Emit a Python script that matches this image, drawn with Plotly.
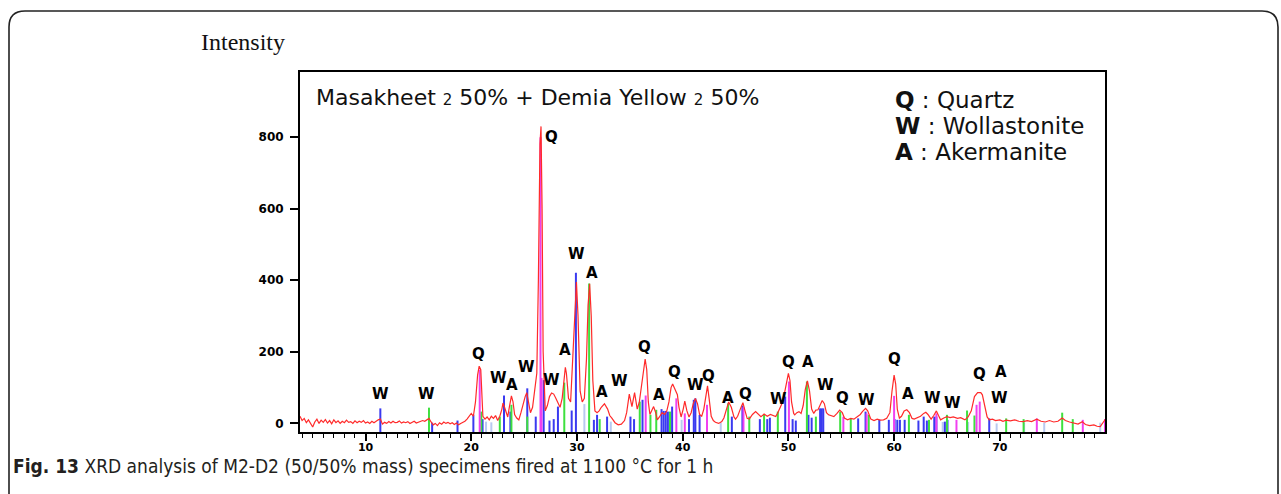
import plotly.graph_objects as go

# ---------------- data ----------------
two_theta = [3.8, 4.0, 4.2, 4.4, 4.6, 4.8, 5.0, 5.2, 5.4, 5.6, 5.8, 6.0, 6.2, 6.4, 6.6, 6.8, 7.0, 7.2, 7.4, 7.6,
             7.8, 8.0, 8.2, 8.4, 8.6, 8.8, 9.0, 9.2, 9.4, 9.6, 9.8, 10.0, 10.2, 10.4, 10.6, 10.8, 11.0, 11.2, 11.4, 11.6,
             11.8, 12.0, 12.2, 12.4, 12.6, 12.8, 13.0, 13.2, 13.4, 13.6, 13.8, 14.0, 14.2, 14.4, 14.6, 14.8, 15.0, 15.2, 15.4, 15.6,
             15.8, 16.0, 16.2, 16.4, 16.6, 16.8, 17.0, 17.2, 17.4, 17.6, 17.8, 18.0, 18.2, 18.4, 18.6, 18.8, 19.0, 19.2, 19.4, 19.6,
             19.8, 20.0, 20.2, 20.4, 20.6, 20.75, 20.9, 21.0, 21.1, 21.3, 21.5, 21.7, 21.9, 22.1, 22.3, 22.5, 22.7, 22.9, 23.0, 23.15,
             23.3, 23.45, 23.6, 23.8, 23.95, 24.1, 24.3, 24.5, 24.7, 24.9, 25.1, 25.25, 25.4, 25.6, 25.8, 26.0, 26.2, 26.35, 26.5, 26.6,
             26.7, 26.8, 26.9, 27.0, 27.2, 27.4, 27.6, 27.8, 28.0, 28.2, 28.4, 28.6, 28.8, 28.9, 29.0, 29.2, 29.4, 29.6, 29.8, 29.95,
             30.1, 30.3, 30.5, 30.7, 30.9, 31.05, 31.2, 31.35, 31.5, 31.7, 31.9, 32.1, 32.3, 32.6, 32.9, 33.1, 33.3, 33.6, 33.9, 34.2,
             34.5, 34.7, 34.95, 35.2, 35.45, 35.7, 35.9, 36.1, 36.3, 36.45, 36.6, 36.75, 36.9, 37.05, 37.25, 37.45, 37.6, 37.8, 38.05, 38.3,
             38.5, 38.7, 38.9, 39.05, 39.3, 39.5, 39.65, 39.85, 40.05, 40.2, 40.4, 40.6, 40.8, 41.0, 41.2, 41.4, 41.6, 41.8, 42.0, 42.2,
             42.35, 42.5, 42.7, 42.9, 43.1, 43.4, 43.7, 43.9, 44.1, 44.35, 44.6, 44.85, 45.0, 45.2, 45.45, 45.7, 45.9, 46.1, 46.3, 46.6,
             46.9, 47.1, 47.4, 47.7, 48.0, 48.3, 48.6, 48.8, 49.0, 49.2, 49.4, 49.6, 49.8, 50.0, 50.15, 50.3, 50.5, 50.6, 50.8, 51.0,
             51.2, 51.4, 51.6, 51.8, 52.0, 52.2, 52.4, 52.6, 52.8, 53.0, 53.2, 53.4, 53.6, 53.8, 54.0, 54.3, 54.6, 54.85, 55.1, 55.3,
             55.6, 55.9, 56.2, 56.5, 56.8, 57.0, 57.3, 57.5, 57.8, 58.1, 58.4, 58.7, 59.0, 59.3, 59.6, 59.8, 60.0, 60.15, 60.3, 60.5,
             60.7, 60.95, 61.2, 61.45, 61.7, 61.9, 62.2, 62.5, 62.8, 63.0, 63.2, 63.5, 63.75, 64.0, 64.2, 64.4, 64.7, 65.0, 65.3, 65.6,
             66.0, 66.3, 66.7, 67.0, 67.3, 67.6, 67.9, 68.2, 68.35, 68.6, 68.8, 69.0, 69.3, 69.6, 70.0, 70.3, 70.6, 71.0, 71.4, 71.8,
             72.2, 72.6, 73.0, 73.5, 73.9, 74.3, 74.7, 75.1, 75.5, 75.9, 76.2, 76.6, 77.0, 77.4, 77.8, 78.1, 78.5, 78.9, 79.2, 79.5,
             79.8, 80.0]
intensity = [20, 8, 14, 2, 10, -2, -10, 4, 12, 0, 9, 3, 11, 1, 8, -1, 10, 2, 7, 0,
             6, 2, 9, 3, 5, 0, 7, 2, 6, 3, 8, 1, 4, 0, 6, 2, 7, 10, 12, -2,
             3, 0, 5, 1, 6, 2, 3, 7, 1, 4, 2, 5, 0, 3, 6, 1, 4, 5, 8, 6,
             9, 14, 4, -4, 0, -6, 2, -2, 4, 0, 3, -1, 2, -3, 1, -4, 0, 3, 6, 12,
             22, 28, 20, 60, 135, 160, 150, 60, 20, 12, 18, 10, 20, 14, 22, 8, 20, 40, 57, 45,
             30, 18, 45, 77, 60, 25, 15, 10, 30, 55, 75, 86, 60, 30, 45, 90, 140, 400, 780, 830,
             600, 200, 90, 35, 50, 75, 85, 82, 70, 55, 45, 70, 130, 157, 140, 70, 60, 180, 320, 395,
             300, 90, 60, 70, 180, 330, 390, 300, 120, 35, 30, 35, 45, 55, 40, 22, 15, 2, -4, -2,
             8, 30, 82, 47, 86, 40, 60, 100, 150, 180, 150, 60, 25, 35, 47, 30, 10, 18, 30, 25,
             35, 60, 100, 110, 95, 80, 45, 18, 40, 62, 35, 18, 30, 55, 70, 55, 25, 20, 40, 80,
             105, 70, 20, 8, 3, 0, 5, 15, 35, 60, 45, 18, 12, 20, 40, 58, 35, 14, 12, 25,
             33, 28, 19, 26, 20, 25, 22, 19, 30, 45, 56, 80, 110, 140, 120, 60, 28, 24, 30, 33,
             28, 50, 95, 119, 90, 40, 28, 37, 38, 50, 64, 55, 30, 24, 22, 19, 28, 37, 30, 15,
             10, 14, 12, 18, 25, 33, 42, 35, 12, 8, 12, 9, 10, 14, 30, 90, 135, 110, 40, 15,
             20, 35, 38, 30, 14, 12, 15, 20, 28, 31, 25, 12, 22, 35, 22, 10, 15, 19, 16, 18,
             14, 16, 10, 18, 35, 75, 86, 86, 80, 40, 18, 10, 12, 8, 10, 6, 9, 7, 10, 6,
             5, 8, 5, 12, 6, 4, 8, 4, 6, 15, 8, 4, 2, -2, 5, -3, -6, -4, -8, -9,
             4, 12]

# reference pattern sticks (position, height)
wollastonite_blue_x = [11.4, 16.3, 18.7, 20.2, 21.07, 23.1, 23.7, 25.3, 26.1, 26.85, 27.4, 27.8, 28.2, 29.5, 29.9,
                       31.6, 31.9, 32.85, 35.06, 35.4, 36.2, 38.0, 38.2, 38.4, 38.6, 39.0, 40.6, 41.05, 41.2, 41.6,
                       44.65, 45.65, 47.3, 48.0, 48.25, 49.7, 50.4, 50.7, 51.9, 52.2, 53.0, 53.15, 53.3, 56.6, 57.3,
                       58.6, 59.5, 60.05, 60.3, 60.55, 61.0, 62.3, 62.8, 63.1, 63.8, 64.0, 64.8, 65.05, 69.0]
wollastonite_blue_h = [42, 2, 8, 24, 12, 78, 33, 98, 19, 121, 8, 12, 47, 36, 421,
                       10, 24, 19, 19, 12, 66, 40, 35, 35, 33, 47, 12, 66, 70, 24,
                       19, 50, 12, 12, 16, 75, 12, 8, 24, 16, 42, 42, 42, 14, 33,
                       10, 10, 12, 10, 10, 10, 8, 19, 8, 19, 19, 5, 10, 14]
akermanite_green_x = [16.0, 20.95, 22.7, 23.8, 25.3, 28.8, 31.15, 32.15, 35.94, 36.95, 37.5, 38.8, 44.3, 46.3, 47.7,
                      49.0, 51.75, 52.6, 54.9, 55.9, 57.6, 61.4, 63.3, 65.0, 66.9, 67.6, 70.6, 72.25, 75.9, 76.9]
akermanite_green_h = [44, 33, 19, 52, 19, 114, 391, 12, 61, 24, 38, 33, 56, 19, 26,
                      33, 117, 19, 33, 14, 24, 24, 10, 24, 36, 22, 14, 12, 30, 12]
quartz_magenta_x = [20.8, 26.55, 26.65, 36.5, 39.4, 40.2, 42.3, 45.75, 50.05, 55.2, 57.4, 60.0, 64.0, 65.9, 67.8,
                    68.1, 73.5, 77.85, 79.95]
quartz_magenta_h = [150, 800, 127, 78, 70, 28, 52, 45, 117, 19, 28, 77, 28, 10, 52,
                    61, 14, 10, 12]
other_light_x = [21.4, 21.9, 30.7, 33.2, 39.9, 43.6, 64.6, 67.0, 69.7, 72.3, 74.2, 79.5]
other_light_h = [5, 3, 54, 5, 10, 2, 4, 4, 0, 2, 2, 2]

# peak labels
label_x = [11.4, 15.8, 20.7, 22.6, 23.9, 25.2, 27.6, 28.9, 27.6, 30.0, 31.45, 32.4, 34.0, 36.4, 37.8, 39.2, 41.2,
           42.4, 44.3, 45.9, 49.1, 50.0, 51.9, 53.5, 55.1, 57.4, 60.05, 61.3, 63.65, 65.5, 68.1, 70.1, 70.0]
label_y = [82, 82, 194, 127, 107, 158, 121, 205, 800, 473, 420, 88, 119, 213, 80, 144, 107,
           133, 71, 82, 68, 172, 172, 107, 71, 66, 180, 82, 71, 57, 138, 144, 71]
label_text = ["W", "W", "Q", "W", "A", "W", "W", "A", "Q", "W", "A", "A", "W", "Q", "A", "Q", "W",
              "Q", "A", "Q", "W", "Q", "A", "W", "Q", "W", "Q", "A", "W", "W", "Q", "A", "W"]

y_ticks = [0, 200, 400, 600, 800]
x_ticks = [10, 20, 30, 40, 50, 60, 70]

# ---------------- layout geometry (pixels) ----------------
W, H = 1281, 494
L, R, T, B = 300, 1105, 72, 432
YMIN, YMAX = -24, 982
XMIN, XMAX = 3.8, 79.95


def px(xp):
    return (xp - L) / (R - L)


def py(yp):
    return (B - yp) / (B - T)


def sticks(xs, hs):
    xx, yy = [], []
    for x, h in zip(xs, hs):
        xx += [x, x, None]
        yy += [YMIN, h, None]
    return xx, yy


fig = go.Figure()
for xs, hs, col in [(other_light_x, other_light_h, "#b9c9f0"),
                    (wollastonite_blue_x, wollastonite_blue_h, "#3a3af0"),
                    (akermanite_green_x, akermanite_green_h, "#3ee03e"),
                    (quartz_magenta_x, quartz_magenta_h, "#f040f0")]:
    sx, sy = sticks(xs, hs)
    fig.add_trace(go.Scatter(x=sx, y=sy, mode="lines", line=dict(color=col, width=2),
                             hoverinfo="skip", showlegend=False))

fig.add_trace(go.Scatter(x=two_theta, y=intensity, mode="lines",
                         line=dict(color="#ff2a2a", width=1.2), showlegend=False))

for x, y, t in zip(label_x, label_y, label_text):
    fig.add_annotation(x=x, y=y, xref="x", yref="y", text=t, showarrow=False,
                       font=dict(family="DejaVu Sans", size=15, color="black", weight="bold"))

fig.add_annotation(x=px(314), y=py(97), xref="paper", yref="paper", xanchor="left", yanchor="middle",
                   text="Masakheet <span style='font-size:15px'>2</span> 50% + Demia Yellow "
                        "<span style='font-size:15px'>2</span> 50%",
                   showarrow=False, font=dict(family="DejaVu Sans", size=22, color="#111111"))
for i, (k, name) in enumerate([("Q", "Quartz"), ("W", "Wollastonite"), ("A", "Akermanite")]):
    fig.add_annotation(x=px(893), y=py(100 + 26 * i), xref="paper", yref="paper",
                       xanchor="left", yanchor="middle", text=f"<b>{k}</b> : {name}",
                       showarrow=False, font=dict(family="DejaVu Sans", size=23, color="#111111"))

fig.add_annotation(x=px(199), y=py(42), xref="paper", yref="paper", xanchor="left", yanchor="middle",
                   text="Intensity", showarrow=False,
                   font=dict(family="Liberation Serif, Times New Roman", size=24, color="#111111"))
fig.add_annotation(x=px(11), y=py(466), xref="paper", yref="paper", xanchor="left", yanchor="middle",
                   text="<b>Fig. 13</b> XRD analysis of M2-D2 (50/50% mass) specimens fired at 1100 °C for 1 h",
                   showarrow=False,
                   font=dict(family="DejaVu Sans Condensed, Liberation Sans Narrow, sans-serif",
                             size=19, color="#231f20"))

# rounded outer border
x0, x1, y0, y1, r = 9, 1278, 11, 494, 16
path = (f"M {px(x0)},{py(y1 + 2)} L {px(x0)},{py(y0 + r)} "
        f"Q {px(x0)},{py(y0)} {px(x0 + r)},{py(y0)} L {px(x1 - r)},{py(y0)} "
        f"Q {px(x1)},{py(y0)} {px(x1)},{py(y0 + r)} L {px(x1)},{py(y1 + 2)}")
fig.add_shape(type="path", path=path, xref="paper", yref="paper",
              line=dict(color="#222222", width=1.6), layer="above")

ytickfont = dict(family="DejaVu Sans", size=12, color="black", weight="bold")
xtickfont = dict(family="DejaVu Sans", size=11, color="black", weight="bold")
fig.update_xaxes(range=[XMIN, XMAX], tickmode="array", tickvals=x_ticks, ticks="outside",
                 ticklen=7, tickwidth=1.5, tickcolor="black", showline=True, linecolor="black",
                 linewidth=2, mirror=True, showgrid=False, zeroline=False, tickfont=xtickfont,
                 ticklabelstandoff=-3,
                 minor=dict(tickmode="linear", tick0=0, dtick=1, ticks="outside", ticklen=4,
                            tickwidth=1, tickcolor="black", showgrid=False))
fig.update_yaxes(range=[YMIN, YMAX], tickmode="array", tickvals=y_ticks, ticks="outside",
                 ticklen=8, tickwidth=1.5, tickcolor="black", showline=True, linecolor="black",
                 linewidth=2, mirror=True, showgrid=False, zeroline=False, tickfont=ytickfont,
                 ticklabelstandoff=4)

fig.update_layout(width=W, height=H, margin=dict(l=L, r=W - R, t=T, b=H - B),
                  paper_bgcolor="white", plot_bgcolor="white", showlegend=False)

fig.write_html("out.html")
